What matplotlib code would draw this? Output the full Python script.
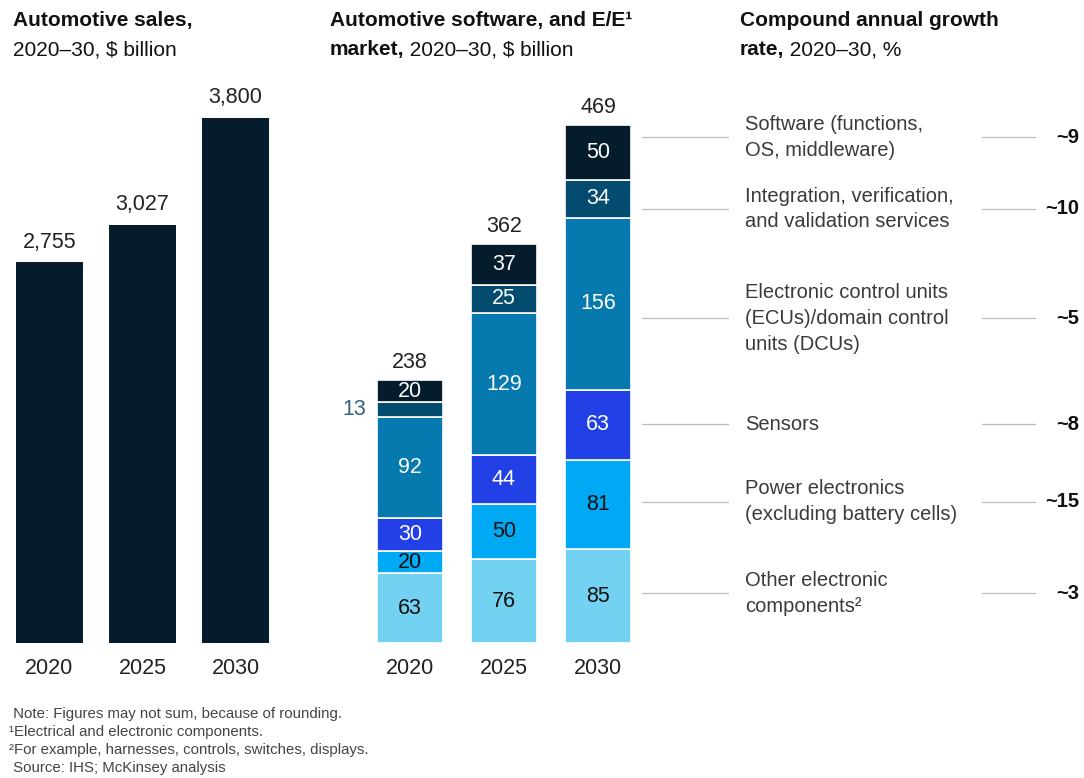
import matplotlib
matplotlib.use("Agg")
import matplotlib.pyplot as plt
from matplotlib.transforms import blended_transform_factory

plt.rcParams["font.family"] = ["Liberation Sans", "DejaVu Sans"]

# --- data -------------------------------------------------------------
YEARS = ["2020", "2025", "2030"]
SALES = [2755, 3027, 3800]

SEGMENTS = [
    "Other electronic\ncomponents\u00b2",
    "Power electronics\n(excluding battery cells)",
    "Sensors",
    "Electronic control units\n(ECUs)/domain control\nunits (DCUs)",
    "Integration, verification,\nand validation services",
    "Software (functions,\nOS, middleware)",
]
SEG_VALUES = [
    [63, 76, 85],
    [20, 50, 81],
    [30, 44, 63],
    [92, 129, 156],
    [13, 25, 34],
    [20, 37, 50],
]
TOTALS = [238, 362, 469]
CAGR = ["~3", "~15", "~8", "~5", "~10", "~9"]

NOTES = [
    " Note: Figures may not sum, because of rounding.",
    "\u00b9Electrical and electronic components.",
    "\u00b2For example, harnesses, controls, switches, displays.",
    " Source: IHS; McKinsey analysis",
]

# --- style ------------------------------------------------------------
NAVY = "#051C2C"
SEG_COLORS = ["#73D2F2", "#00A9F4", "#2140E6", "#0679AE", "#034B6F", NAVY]
SEG_TEXT = ["#111111", "#111111", "white", "white", "white", "white"]
GREY_LINE = "#BDBDBD"
LABEL_GREY = "#3A3A3A"
# where the leader lines sit on the market axis (data units)
LEADER_Y = [45, 128, 198, 294, 393, 458]

W, H = 1084, 778
fig = plt.figure(figsize=(W / 100, H / 100), dpi=100)


def px_axes(x0, x1, top, bottom):
    return fig.add_axes([x0 / W, (H - bottom) / H, (x1 - x0) / W, (bottom - top) / H])


def clean(ax):
    for s in ax.spines.values():
        s.set_visible(False)
    ax.set_yticks([])
    ax.tick_params(axis="x", length=0, pad=11, labelsize=15.5, labelcolor="#222222")


# --- left: automotive sales ------------------------------------------
ax1 = px_axes(0, 290, 118, 643)
ax1.set_xlim(-49.5 / 93, (290 - 49.5) / 93)
ax1.set_ylim(0, SALES[-1])
xs = range(len(YEARS))
ax1.bar(xs, SALES, width=0.72, color=NAVY)
for i, v in enumerate(SALES):
    ax1.annotate(f"{v:,}", (i, v), xytext=(0, 7), textcoords="offset points",
                 ha="center", va="bottom", fontsize=15.5, color="#222222")
ax1.set_xticks(list(xs), YEARS)
clean(ax1)

# --- middle: software and E/E market ---------------------------------
ax2 = px_axes(330, 660, 125, 643)
ax2.set_xlim((330 - 410) / 94, (660 - 410) / 94)
ax2.set_ylim(0, TOTALS[-1])
bottoms = [0, 0, 0]
for seg, vals, col, tcol in zip(SEGMENTS, SEG_VALUES, SEG_COLORS, SEG_TEXT):
    ax2.bar(xs, vals, bottom=bottoms, width=0.70, color=col,
            edgecolor="white", linewidth=1.2)
    for i, v in enumerate(vals):
        mid = bottoms[i] + v / 2
        if v < 15:
            ax2.annotate(str(v), (i - 0.35, mid), xytext=(-8, 0),
                         textcoords="offset points", ha="right", va="center",
                         fontsize=15.5, color="#32607F")
        else:
            ax2.text(i, mid, str(v), ha="center", va="center",
                     fontsize=15.5, color=tcol)
    bottoms = [b + v for b, v in zip(bottoms, vals)]
for i, v in enumerate(TOTALS):
    ax2.annotate(str(v), (i, bottoms[i]), xytext=(0, 5), textcoords="offset points",
                 ha="center", va="bottom", fontsize=15.5, color="#222222")
ax2.set_xticks(list(xs), YEARS)
clean(ax2)

# --- right: labels, leaders and CAGR ---------------------------------
tr = blended_transform_factory(fig.transFigure, ax2.transData)
for seg, cagr, y in zip(SEGMENTS, CAGR, LEADER_Y):
    ax2.plot([642 / W, 728 / W], [y, y], transform=tr, color=GREY_LINE,
             lw=0.9, clip_on=False)
    ax2.plot([982 / W, 1035 / W], [y, y], transform=tr, color=GREY_LINE,
             lw=0.9, clip_on=False)
    ax2.text(745 / W, y, seg, transform=tr, ha="left", va="center",
             fontsize=14.5, color=LABEL_GREY, linespacing=1.45)
    ax2.text(1079 / W, y, cagr, transform=tr, ha="right", va="center",
             fontsize=14.5, fontweight="bold", color="#111111")

# --- titles -----------------------------------------------------------
renderer = fig.canvas.get_renderer()


def title(x, y, bold, regular="", size=15):
    t = fig.text(x / W, 1 - y / H, bold, fontsize=size, fontweight="bold",
                 color="#111111", va="baseline")
    if regular:
        bb = t.get_window_extent(renderer)
        fig.text(bb.x1 / W, 1 - y / H, regular, fontsize=size, color="#111111",
                 va="baseline")


title(13, 26, "Automotive sales,")
fig.text(13 / W, 1 - 55 / H, "2020\u201330, $ billion", fontsize=15,
         color="#111111", va="baseline")
title(330, 26, "Automotive software, and E/E\u00b9")
title(330, 55, "market,", " 2020\u201330, $ billion")
title(740, 26, "Compound annual growth")
title(740, 55, "rate,", " 2020\u201330, %")

# --- notes ------------------------------------------------------------
for k, note in enumerate(NOTES):
    fig.text(9 / W, 1 - (718 + 18 * k) / H, note, fontsize=10.8,
             color="#444444", va="baseline")

fig.savefig("out.png", dpi=100, facecolor="white")
